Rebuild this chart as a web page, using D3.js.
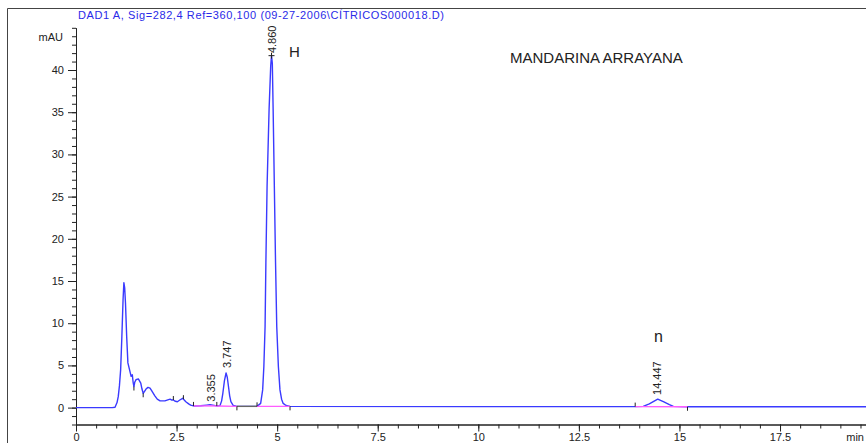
<!DOCTYPE html>
<html>
<head>
<meta charset="utf-8">
<script src="https://cdn.jsdelivr.net/npm/d3@7"></script>
<style>
  body { margin: 0; background: #fff; }
  svg { display: block; font-family: "Liberation Sans", Arial, sans-serif; }
</style>
</head>
<body>
<script>
// retention time (min)
const times = [0, 0.9, 0.97, 1.02, 1.05, 1.08, 1.11, 1.14, 1.17, 1.19, 1.21, 1.23, 1.26, 1.29, 1.33, 1.37,
    1.40, 1.42, 1.44, 1.46, 1.49, 1.55, 1.61, 1.64, 1.67, 1.70, 1.74, 1.79, 1.84, 1.88, 1.96, 2.02, 2.09,
    2.21, 2.30, 2.34, 2.38, 2.42, 2.47, 2.52, 2.58, 2.65, 2.69, 2.73, 2.80, 2.85, 2.92, 3.10, 3.25, 3.33,
    3.40, 3.50, 3.58, 3.62, 3.65, 3.69, 3.73, 3.76, 3.79, 3.82, 3.85, 3.91, 4.0, 4.5, 4.59, 4.64, 4.67,
    4.70, 4.72, 4.75, 4.80, 4.84, 4.86, 4.88, 4.90, 4.93, 4.96, 4.99, 5.03, 5.07, 5.11, 5.15, 5.22, 5.32,
    10, 13.9, 14.1, 14.25, 14.46, 14.6, 14.75, 14.85, 15.2, 20];
// signal (mAU)
const signal = [0, 0, 0.05, 0.6, 1.3, 2.6, 4.5, 8.4, 12.8, 14.8, 14.2, 12.4, 8.4, 5.3, 4.5, 3.7,
    3.9, 3.0, 2.5, 3.0, 3.3, 3.4, 2.9, 2.2, 1.7, 1.9, 2.2, 2.4, 2.3, 2.0, 1.4, 1.0, 0.8,
    0.8, 0.95, 1.0, 0.9, 0.9, 0.75, 0.7, 0.9, 1.1, 0.9, 0.7, 0.45, 0.3, 0.2, 0.22, 0.3, 0.35,
    0.3, 0.2, 0.25, 0.8, 1.7, 3.2, 4.1, 3.6, 2.5, 1.4, 0.7, 0.25, 0.15, 0.15, 0.5, 2.1, 4.9,
    9.6, 17.2, 26.3, 35.4, 40.5, 41.7, 40.8, 35.4, 26.3, 17.2, 9.6, 4.9, 2.1, 1.0, 0.5, 0.25, 0.15,
    0.12, 0.12, 0.15, 0.45, 1.0, 0.7, 0.35, 0.15, 0.1, 0.1];

// peak labels: retention time, label anchor value
const peakTimes = [3.355, 3.747, 4.860, 14.447];
const peakLabelBase = [0.7, 4.7, 42.0, 1.5];

// integration baselines [t0, v0, t1, v1]
const baselines = [[2.92, 0.2, 3.5, 0.2], [3.5, 0.2, 4.0, 0.15], [4.5, 0.15, 5.32, 0.15], [13.9, 0.12, 15.2, 0.1]];
// peak start/end markers [t, v, direction]
const markers = [[1.44, 2.5, 1], [1.67, 1.7, 1], [2.42, 0.9, -1], [2.67, 1.0, -1], [2.92, 0.2, -1], [3.5, 0.2, -1],
    [4.0, 0.15, 1], [4.5, 0.15, -1], [5.32, 0.15, 1], [13.9, 0.12, -1], [15.2, 0.1, 1]];

const xMajor = [0, 2.5, 5, 7.5, 10, 12.5, 15, 17.5];
const yMajor = [0, 5, 10, 15, 20, 25, 30, 35, 40];

const width = 866, height = 443;

const x = d3.scaleLinear().domain([0, 20]).range([76, 880.6]);
const y = d3.scaleLinear().domain([-2, 45]).range([424.5, 27.8]);

const svg = d3.select("body").append("svg")
    .attr("width", width)
    .attr("height", height);

// frame
svg.append("path")
    .attr("d", `M7.5,${height}V8.5H${width}`)
    .attr("fill", "none")
    .attr("stroke", "#444")
    .attr("stroke-width", 1);

svg.append("text")
    .attr("x", 78)
    .attr("y", 19)
    .attr("font-size", 11)
    .attr("fill", "#2a2ae8")
    .attr("textLength", 366)
    .attr("lengthAdjust", "spacing")
    .text("DAD1 A, Sig=282,4 Ref=360,100 (09-27-2006\\CÍTRICOS000018.D)");

// axes
const styleAxis = g => {
    g.selectAll("path, line").attr("stroke", "#222");
    g.selectAll("text").attr("font-size", 11).attr("fill", "#222").attr("font-family", null);
};

svg.append("g")
    .attr("transform", `translate(0,${y(-2)})`)
    .call(d3.axisBottom(x).tickValues(d3.range(0, 20.01, 0.5)).tickSize(4).tickFormat("").tickSizeOuter(0))
    .call(styleAxis);

svg.append("g")
    .attr("transform", `translate(0,${y(-2)})`)
    .call(d3.axisBottom(x).tickValues(xMajor).tickFormat(d => d).tickSize(7).tickPadding(2).tickSizeOuter(0))
    .call(styleAxis);

svg.append("g")
    .attr("transform", `translate(${x(0)},0)`)
    .call(d3.axisLeft(y).tickValues(d3.range(-2, 45.01, 1)).tickSize(4).tickFormat("").tickSizeOuter(0))
    .call(styleAxis);

svg.append("g")
    .attr("transform", `translate(${x(0)},0)`)
    .call(d3.axisLeft(y).tickValues(yMajor).tickSize(8).tickPadding(4).tickSizeOuter(0))
    .call(styleAxis);

svg.append("text")
    .attr("x", 63)
    .attr("y", 41)
    .attr("text-anchor", "end")
    .attr("font-size", 11)
    .attr("fill", "#222")
    .text("mAU");

svg.append("text")
    .attr("x", 864)
    .attr("y", 441)
    .attr("text-anchor", "end")
    .attr("font-size", 11)
    .attr("fill", "#222")
    .text("min");

// trace
const line = d3.line()
    .x((d, i) => x(times[i]))
    .y(d => y(d));

svg.append("path")
    .datum(signal)
    .attr("fill", "none")
    .attr("stroke", "#3a3aff")
    .attr("stroke-width", 1.4)
    .attr("stroke-linejoin", "round")
    .attr("d", line);

svg.append("line")
    .attr("x1", x(4.0)).attr("x2", x(4.5))
    .attr("y1", y(0.15)).attr("y2", y(0.15))
    .attr("stroke", "#666")
    .attr("stroke-width", 1.4);

svg.append("g")
    .selectAll("line")
    .data(baselines)
    .join("line")
        .attr("x1", d => x(d[0]))
        .attr("y1", d => y(d[1]))
        .attr("x2", d => x(d[2]))
        .attr("y2", d => y(d[3]))
        .attr("stroke", "#ff5cff")
        .attr("stroke-width", 1.4);

svg.append("g")
    .selectAll("line")
    .data(markers)
    .join("line")
        .attr("x1", d => x(d[0]))
        .attr("x2", d => x(d[0]))
        .attr("y1", d => y(d[1]))
        .attr("y2", d => y(d[1]) + d[2] * 4)
        .attr("stroke", "#222")
        .attr("stroke-width", 1);

// apex mark on main peak
svg.append("path")
    .attr("d", `M${x(4.86) - 3},${y(41.7)}H${x(4.86) + 3}M${x(4.86)},${y(41.7) - 3}V${y(41.7) + 3}`)
    .attr("stroke", "#222")
    .attr("stroke-width", 1);

svg.append("g")
    .selectAll("text")
    .data(peakTimes)
    .join("text")
        .attr("transform", (d, i) => `translate(${x(d) + 4},${y(peakLabelBase[i])}) rotate(-90)`)
        .attr("font-size", 11)
        .attr("fill", "#222")
        .text(d => d.toFixed(3));

// annotations
svg.append("text")
    .attr("x", 289)
    .attr("y", 57)
    .attr("font-size", 15)
    .attr("fill", "#222")
    .text("H");

svg.append("text")
    .attr("x", 510)
    .attr("y", 63)
    .attr("font-size", 15)
    .attr("fill", "#222")
    .text("MANDARINA ARRAYANA");

svg.append("text")
    .attr("x", 654)
    .attr("y", 342)
    .attr("font-size", 16)
    .attr("fill", "#222")
    .text("n");
</script>
</body>
</html>
